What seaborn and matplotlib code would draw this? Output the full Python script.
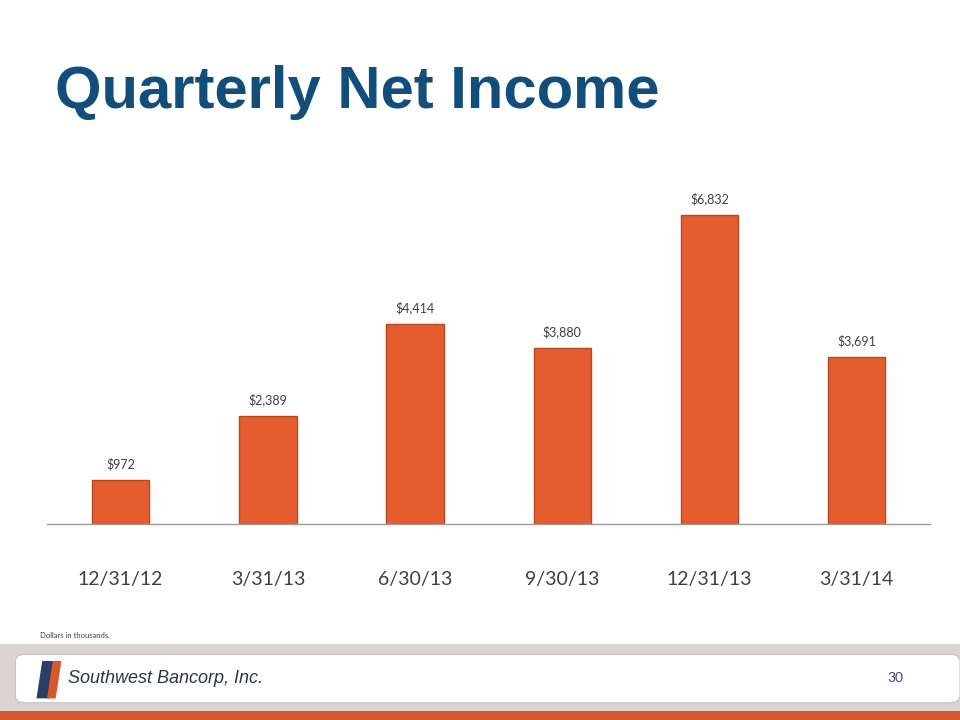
import matplotlib
matplotlib.use("Agg")
import matplotlib.pyplot as plt
import seaborn as sns
import pandas as pd
from matplotlib.patches import Rectangle, FancyBboxPatch, Polygon

quarters = ["12/31/12", "3/31/13", "6/30/13", "9/30/13", "12/31/13", "3/31/14"]
net_income = [972, 2389, 4414, 3880, 6832, 3691]
value_labels = ["$972", "$2,389", "$4,414", "$3,880", "$6,832", "$3,691"]

df = pd.DataFrame({"quarter": quarters, "income": net_income})

sns.set_theme(style="white")
plt.rcParams['font.family'] = ['Lato', 'DejaVu Sans']

fig = plt.figure(figsize=(9.6, 7.2), dpi=100)
fig.patch.set_facecolor("white")

ax = fig.add_axes([0.049, 0.2722, 0.920, 0.52])
sns.barplot(data=df, x="quarter", y="income", color="#E55D2F", width=0.39,
            edgecolor="#B6481F", linewidth=1.0, saturation=1, ax=ax)
ax.set_ylim(0, 8270)
ax.set_xlim(-0.5, 5.5)
ax.set_xlabel("")
ax.set_ylabel("")
ax.set_yticks([])
for s in ["top", "right", "left"]:
    ax.spines[s].set_visible(False)
ax.spines["bottom"].set_color("#9A9A9A")
ax.spines["bottom"].set_linewidth(1.0)
ax.tick_params(axis="x", length=0, pad=34, labelsize=14, labelcolor="#404040")
for i, (v, lab) in enumerate(zip(net_income, value_labels)):
    ax.annotate(lab, (i, v), xytext=(0, 7), textcoords="offset points",
                ha="center", va="bottom", fontsize=9, color="#404040")

# Title
fig.text(0.057, 0.872, "Quarterly Net Income", fontsize=43, fontweight="bold",
         color="#124E7C", ha="left", va="center", family=["Liberation Sans", "DejaVu Sans"])

# Footnote
fig.text(0.042, 0.117, "Dollars in thousands.", fontsize=5.5, color="#404040",
         ha="left", va="center")

# Footer band
fig.patches.append(Rectangle((0, 0.0), 1, 0.105, transform=fig.transFigure,
                             facecolor="#DAD5D2", edgecolor="none", zorder=0))
fig.patches.append(Rectangle((0, 0.0), 1, 0.012, transform=fig.transFigure,
                             facecolor="#D9582B", edgecolor="none", zorder=1))
fig.patches.append(FancyBboxPatch((0.016, 0.024), 0.984, 0.067, transform=fig.transFigure,
                                  boxstyle="round,pad=0,rounding_size=0.01",
                                  facecolor="white", edgecolor="#C8C2BE", linewidth=0.8, zorder=2))
# logo shapes
fig.patches.append(Polygon([(0.038, 0.030), (0.044, 0.082), (0.058, 0.082), (0.052, 0.030)],
                           closed=True, transform=fig.transFigure, facecolor="#2B3F66",
                           edgecolor="none", zorder=3))
fig.patches.append(Polygon([(0.049, 0.030), (0.055, 0.082), (0.064, 0.082), (0.058, 0.030)],
                           closed=True, transform=fig.transFigure, facecolor="#D9582B",
                           edgecolor="none", zorder=3))
fig.text(0.071, 0.057, "Southwest Bancorp, Inc.", fontsize=13, style="italic",
         color="#2B3550", ha="left", va="center", family=["Liberation Sans", "DejaVu Sans"])
fig.text(0.933, 0.058, "30", fontsize=10, color="#2B4E7A", ha="center", va="center")

fig.savefig("out.png", dpi=100)
